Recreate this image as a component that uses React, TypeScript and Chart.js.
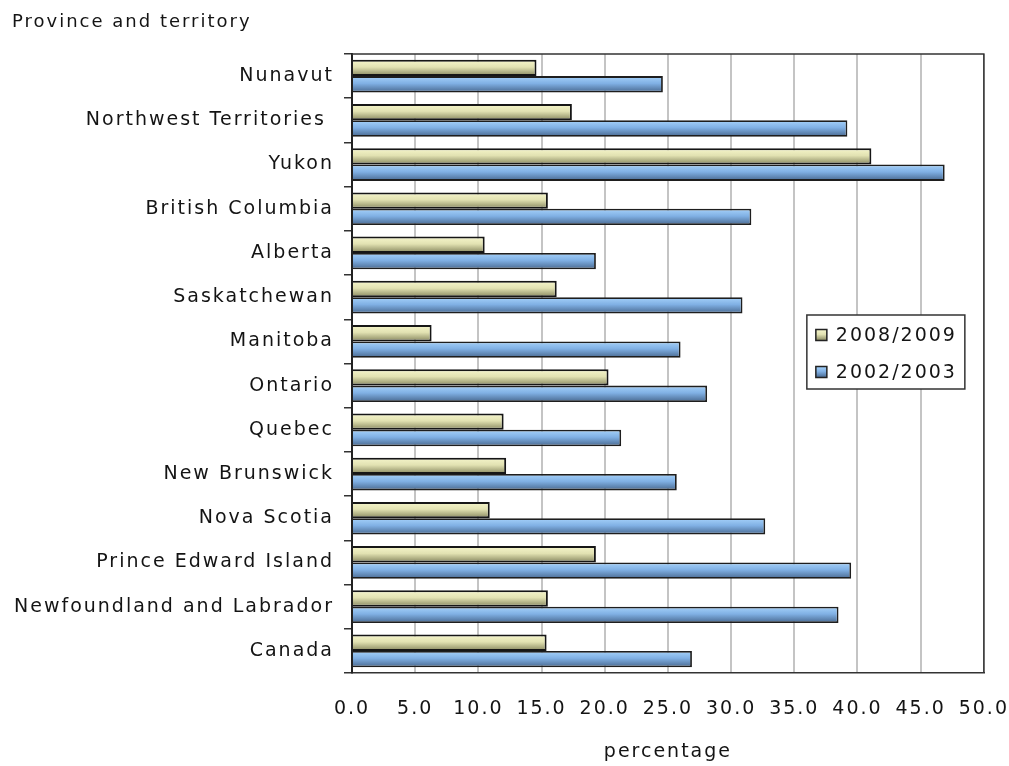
import { useEffect, useRef } from 'react';
import { Chart, registerables } from 'chart.js';

Chart.register(...registerables);

const categories = [
  'Nunavut',
  'Northwest Territories ',
  'Yukon',
  'British Columbia',
  'Alberta',
  'Saskatchewan',
  'Manitoba',
  'Ontario',
  'Quebec',
  'New Brunswick',
  'Nova Scotia',
  'Prince Edward Island',
  'Newfoundland and Labrador',
  'Canada',
];

const seriesLabels = ['2008/2009', '2002/2003'];

const values2008 = [14.6, 17.4, 41.1, 15.5, 10.5, 16.2, 6.3, 20.3, 12.0, 12.2, 10.9, 19.3, 15.5, 15.4];
const values2002 = [24.6, 39.2, 46.9, 31.6, 19.3, 30.9, 26.0, 28.1, 21.3, 25.7, 32.7, 39.5, 38.5, 26.9];

const xMin = 0;
const xMax = 50;
const xStep = 5;

const yAxisTitle = 'Province and territory';
const xAxisTitle = 'percentage';

const CATEGORY_PCT = 0.74;
const LETTER_SPACING = '2px';
const FONT = 'DejaVu Sans';
const TEXT_COLOR = '#141414';

const oliveStops: [number, string][] = [
  [0, '#f6f6cc'],
  [0.45, '#e2e2b2'],
  [1, '#86865e'],
];
const blueStops: [number, string][] = [
  [0, '#a6d2fa'],
  [0.45, '#80b0e4'],
  [1, '#48688f'],
];

function barGradient(stops: [number, string][], dsIndex: number) {
  return (c: any) => {
    const chart = c.chart;
    const y = chart.scales ? chart.scales.y : null;
    if (c.type !== 'data' || !y || !chart.chartArea) return stops[1][1];
    const center = y.getPixelForValue(c.dataIndex);
    const band = (y.bottom - y.top) / categories.length;
    const h = (band * CATEGORY_PCT) / 2;
    const top = center - h + dsIndex * h;
    const g = chart.ctx.createLinearGradient(0, top, 0, top + h);
    stops.forEach(([o, col]) => g.addColorStop(o, col));
    return g;
  };
}

const spacingPlugin = {
  id: 'letterSpacing',
  beforeUpdate(chart: any) {
    (chart.ctx as any).letterSpacing = LETTER_SPACING;
  },
  beforeLayout(chart: any) {
    (chart.ctx as any).letterSpacing = LETTER_SPACING;
  },
  beforeDraw(chart: any) {
    (chart.ctx as any).letterSpacing = LETTER_SPACING;
  },
};

const framePlugin = {
  id: 'frameAndLegend',
  afterDraw(chart: any) {
    const ctx = chart.ctx as CanvasRenderingContext2D;
    const a = chart.chartArea;
    ctx.save();
    (ctx as any).letterSpacing = LETTER_SPACING;
    ctx.strokeStyle = '#333';
    ctx.lineWidth = 1.5;
    ctx.beginPath();
    ctx.moveTo(a.left, a.top);
    ctx.lineTo(a.right, a.top);
    ctx.lineTo(a.right, a.bottom);
    ctx.stroke();

    // legend box
    const lw = 158;
    const lh = 74;
    const lx = a.right - 177;
    const ly = a.top + 261;
    ctx.fillStyle = '#fff';
    ctx.fillRect(lx, ly, lw, lh);
    ctx.strokeStyle = '#333';
    ctx.lineWidth = 1.5;
    ctx.strokeRect(lx, ly, lw, lh);

    const swatches = [oliveStops, blueStops];
    ctx.font = `19px "${FONT}"`;
    ctx.textBaseline = 'middle';
    ctx.textAlign = 'left';
    seriesLabels.forEach((label, i) => {
      const cy = ly + 20 + i * 37;
      const sx = lx + 9;
      const s = 11;
      const g = ctx.createLinearGradient(0, cy - s / 2, 0, cy + s / 2);
      swatches[i].forEach(([o, col]) => g.addColorStop(o, col));
      ctx.fillStyle = g;
      ctx.fillRect(sx, cy - s / 2, s, s);
      ctx.strokeStyle = '#222';
      ctx.lineWidth = 1.5;
      ctx.strokeRect(sx, cy - s / 2, s, s);
      ctx.fillStyle = TEXT_COLOR;
      ctx.fillText(label, sx + 20, cy + 1);
    });
    ctx.restore();
  },
};

export default function App() {
  const canvasRef = useRef<HTMLCanvasElement | null>(null);

  useEffect(() => {
    const canvas = canvasRef.current;
    if (!canvas) return;
    Chart.defaults.font.family = FONT;
    Chart.defaults.font.size = 19;
    Chart.defaults.color = TEXT_COLOR;

    const chart = new Chart(canvas, {
      type: 'bar',
      data: {
        labels: categories,
        datasets: [
          {
            label: seriesLabels[0],
            data: values2008,
            backgroundColor: barGradient(oliveStops, 0) as any,
            borderColor: '#161616',
            borderWidth: 2,
            categoryPercentage: CATEGORY_PCT,
            barPercentage: 1,
          },
          {
            label: seriesLabels[1],
            data: values2002,
            backgroundColor: barGradient(blueStops, 1) as any,
            borderColor: '#1e1e1e',
            borderWidth: 1.8,
            categoryPercentage: CATEGORY_PCT,
            barPercentage: 1,
          },
        ],
      },
      options: {
        indexAxis: 'y',
        responsive: false,
        animation: false,
        devicePixelRatio: 1,
        layout: { padding: { top: 4, left: 12, right: 25, bottom: 0 } },
        plugins: {
          legend: { display: false },
          tooltip: { enabled: false },
          title: {
            display: true,
            text: yAxisTitle,
            align: 'start',
            color: TEXT_COLOR,
            font: { family: FONT, size: 18, weight: 'normal' },
            padding: { top: 8, bottom: 20.4 },
          },
        },
        scales: {
          x: {
            type: 'linear',
            position: 'bottom',
            min: xMin,
            max: xMax,
            ticks: {
              stepSize: xStep,
              padding: 0,
              color: TEXT_COLOR,
              font: { family: FONT, size: 19 },
              callback: (v: any) => Number(v).toFixed(1),
              maxRotation: 0,
            },
            grid: {
              color: '#c4c4c4',
              lineWidth: 2,
              drawTicks: true,
              tickLength: 25,
              tickColor: 'rgba(0,0,0,0)',
            },
            border: { color: '#333', width: 1.5 },
            title: {
              display: true,
              text: xAxisTitle,
              color: TEXT_COLOR,
              font: { family: FONT, size: 19 },
              padding: { top: 4, bottom: 3 },
            },
            afterFit: (scale: any) => {
              scale.height = 93;
            },
          },
          y: {
            type: 'category',
            position: 'left',
            offset: true,
            ticks: {
              padding: 10,
              color: TEXT_COLOR,
              font: { family: FONT, size: 19 },
              autoSkip: false,
            },
            grid: {
              offset: true,
              drawOnChartArea: false,
              drawTicks: true,
              tickLength: 8,
              color: '#333',
              lineWidth: 1.5,
            },
            border: { color: '#222', width: 2 },
            afterFit: (scale: any) => {
              scale.width = 340;
            },
          },
        },
      },
      plugins: [spacingPlugin, framePlugin],
    });

    return () => {
      chart.destroy();
    };
  }, []);

  return (
    <div style={{ position: 'fixed', left: 0, top: 0, width: 1009, height: 766, background: '#fff' }}>
      <canvas ref={canvasRef} width={1009} height={766} style={{ display: 'block' }} />
    </div>
  );
}
